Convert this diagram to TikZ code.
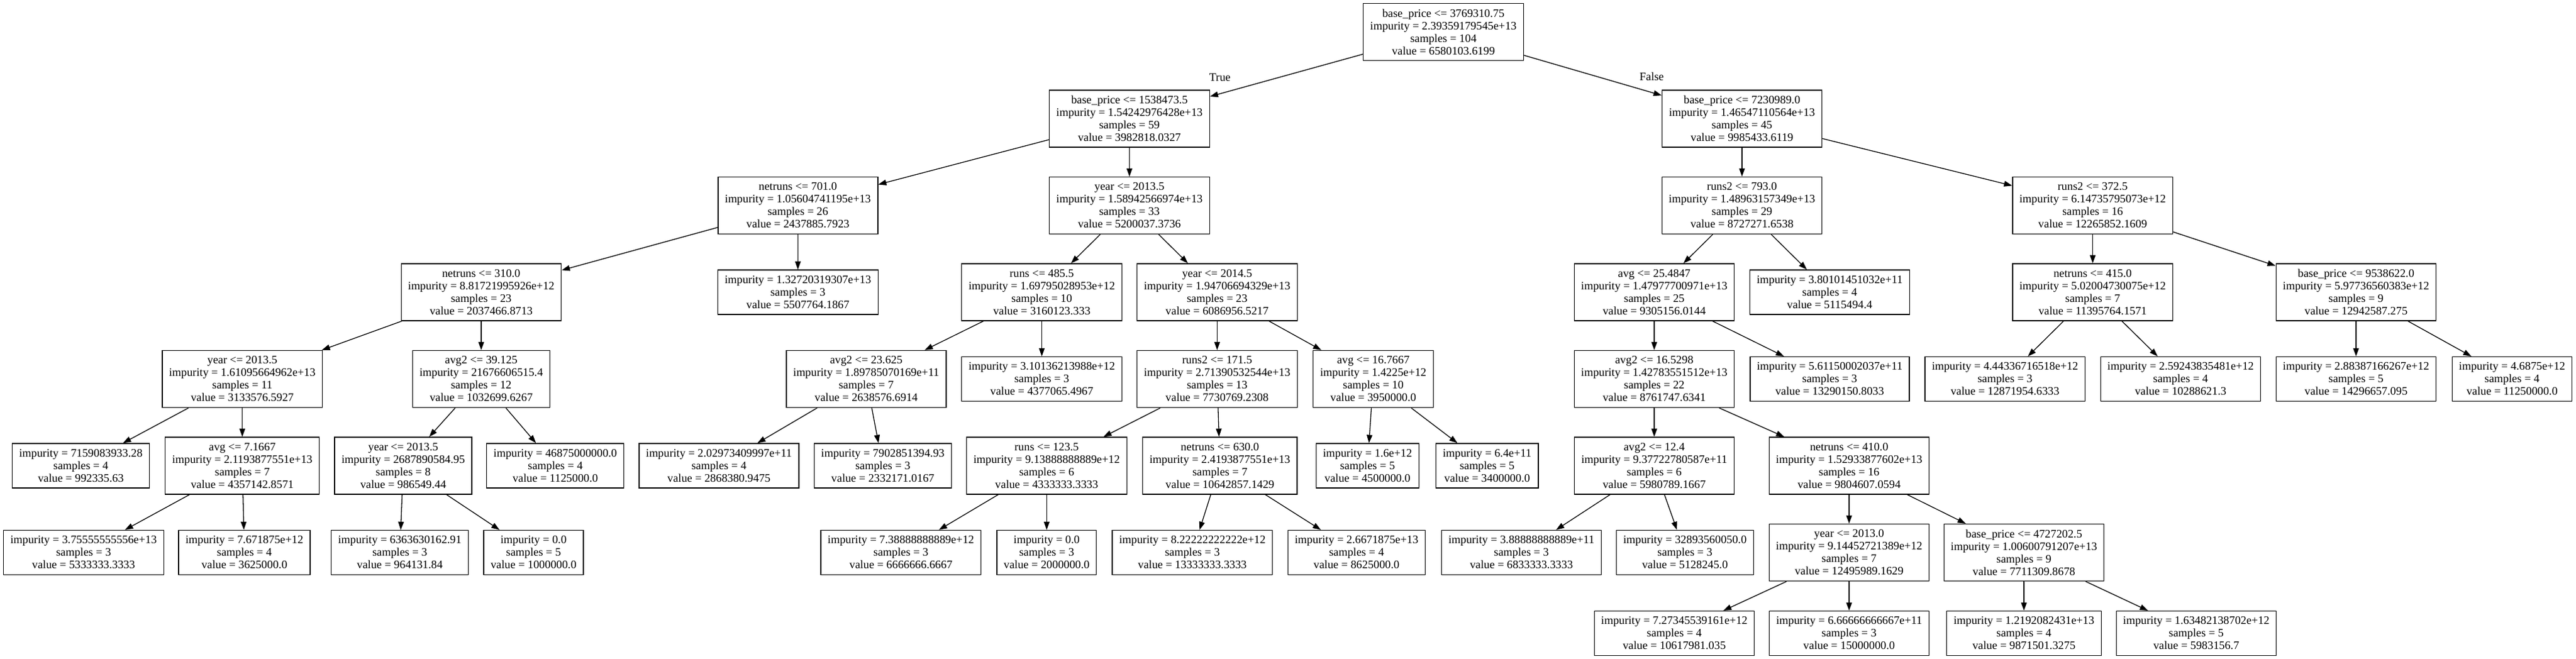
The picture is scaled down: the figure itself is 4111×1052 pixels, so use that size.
\documentclass[tikz,border=0pt]{standalone}
\usepackage{fontspec}
\setmainfont{Liberation Serif}
\usetikzlibrary{positioning,arrows.meta}

\begin{document}
\begin{tikzpicture}[>={Triangle[length=13bp,width=9bp]},line width=1.3bp,on grid,
  font=\fontsize{18.3bp}{20bp}\selectfont,
  split/.style={draw,rectangle,align=center,minimum height=91bp,inner xsep=11bp,inner ysep=2bp},
  leaf/.style={split,minimum height=71bp}]
\useasboundingbox (-2303.5bp,51bp) rectangle (1807.5bp,-1001bp);

% left half (True)
\node[split] (n_0) {base\_price <= 3769310.75\\impurity = 2.39359179545e+13\\samples = 104\\value = 6580103.6199};
\node[split] (n_1) [below left=138.5bp and 501bp of n_0] {base\_price <= 1538473.5\\impurity = 1.54242976428e+13\\samples = 59\\value = 3982818.0327};
\node[split] (n_2) [below left=138.5bp and 529.1bp of n_1] {netruns <= 701.0\\impurity = 1.05604741195e+13\\samples = 26\\value = 2437885.7923};
\node[split] (n_3) [below left=138.5bp and 505.4bp of n_2] {netruns <= 310.0\\impurity = 8.81721995926e+12\\samples = 23\\value = 2037466.8713};
\node[split] (n_4) [below left=138.5bp and 381.3bp of n_3] {year <= 2013.5\\impurity = 1.61095664962e+13\\samples = 11\\value = 3133576.5927};
\node[leaf] (n_5) [below left=138.5bp and 257.7bp of n_4] {impurity = 7159083933.28\\samples = 4\\value = 992335.63};
\node[split] (n_6) [below=138.5bp of n_4] {avg <= 7.1667\\impurity = 2.1193877551e+13\\samples = 7\\value = 4357142.8571};
\node[leaf] (n_7) [below left=138.5bp and 253.3bp of n_6] {impurity = 3.75555555556e+13\\samples = 3\\value = 5333333.3333};
\node[leaf] (n_8) [below right=138.5bp and 3.3bp of n_6] {impurity = 7.671875e+12\\samples = 4\\value = 3625000.0};
\node[split] (n_9) [below=138.5bp of n_3] {avg2 <= 39.125\\impurity = 21676606515.4\\samples = 12\\value = 1032699.6267};
\node[split] (n_10) [below left=138.5bp and 124.5bp of n_9] {year <= 2013.5\\impurity = 2687890584.95\\samples = 8\\value = 986549.44};
\node[leaf] (n_11) [below left=138.5bp and 5.4bp of n_10] {impurity = 6363630162.91\\samples = 3\\value = 964131.84};
\node[leaf] (n_12) [below right=138.5bp and 208bp of n_10] {impurity = 0.0\\samples = 5\\value = 1000000.0};
\node[leaf] (n_13) [below right=138.5bp and 118.2bp of n_9] {impurity = 46875000000.0\\samples = 4\\value = 1125000.0};
\node[leaf] (n_14) [below=138.5bp of n_2] {impurity = 1.32720319307e+13\\samples = 3\\value = 5507764.1867};
\node[split] (n_15) [below=138.5bp of n_1] {year <= 2013.5\\impurity = 1.58942566974e+13\\samples = 33\\value = 5200037.3736};
\node[split] (n_16) [below left=138.5bp and 139.9bp of n_15] {runs <= 485.5\\impurity = 1.69795028953e+12\\samples = 10\\value = 3160123.333};
\node[split] (n_17) [below left=138.5bp and 280.2bp of n_16] {avg2 <= 23.625\\impurity = 1.89785070169e+11\\samples = 7\\value = 2638576.6914};
\node[leaf] (n_18) [below left=138.5bp and 235bp of n_17] {impurity = 2.02973409997e+11\\samples = 4\\value = 2868380.9475};
\node[leaf] (n_19) [below right=138.5bp and 26.5bp of n_17] {impurity = 7902851394.93\\samples = 3\\value = 2332171.0167};
\node[leaf] (n_20) [below=138.5bp of n_16] {impurity = 3.10136213988e+12\\samples = 3\\value = 4377065.4967};
\node[split] (n_21) [below right=138.5bp and 139.9bp of n_15] {year <= 2014.5\\impurity = 1.94706694329e+13\\samples = 23\\value = 6086956.5217};
\node[split] (n_22) [below=138.5bp of n_21] {runs2 <= 171.5\\impurity = 2.71390532544e+13\\samples = 13\\value = 7730769.2308};
\node[split] (n_23) [below left=138.5bp and 272bp of n_22] {runs <= 123.5\\impurity = 9.13888888889e+12\\samples = 6\\value = 4333333.3333};
\node[leaf] (n_24) [below left=138.5bp and 232.6bp of n_23] {impurity = 7.38888888889e+12\\samples = 3\\value = 6666666.6667};
\node[leaf] (n_25) [below=138.5bp of n_23] {impurity = 0.0\\samples = 3\\value = 2000000.0};
\node[split] (n_26) [below right=138.5bp and 4.5bp of n_22] {netruns <= 630.0\\impurity = 2.4193877551e+13\\samples = 7\\value = 10642857.1429};
\node[leaf] (n_27) [below left=138.5bp and 44bp of n_26] {impurity = 8.22222222222e+12\\samples = 3\\value = 13333333.3333};
\node[leaf] (n_28) [below right=138.5bp and 218bp of n_26] {impurity = 2.6671875e+13\\samples = 4\\value = 8625000.0};
\node[split] (n_29) [below right=138.5bp and 249.2bp of n_21] {avg <= 16.7667\\impurity = 1.4225e+12\\samples = 10\\value = 3950000.0};
\node[leaf] (n_30) [below left=138.5bp and 9.2bp of n_29] {impurity = 1.6e+12\\samples = 5\\value = 4500000.0};
\node[leaf] (n_31) [below right=138.5bp and 181.7bp of n_29] {impurity = 6.4e+11\\samples = 5\\value = 3400000.0};

% right half (False)
\node[split] (n_32) [below right=138.5bp and 476.5bp of n_0] {base\_price <= 7230989.0\\impurity = 1.46547110564e+13\\samples = 45\\value = 9985433.6119};
\node[split] (n_33) [below=138.5bp of n_32] {runs2 <= 793.0\\impurity = 1.48963157349e+13\\samples = 29\\value = 8727271.6538};
\node[split] (n_34) [below left=138.5bp and 140bp of n_33] {avg <= 25.4847\\impurity = 1.47977700971e+13\\samples = 25\\value = 9305156.0144};
\node[split] (n_35) [below=138.5bp of n_34] {avg2 <= 16.5298\\impurity = 1.42783551512e+13\\samples = 22\\value = 8761747.6341};
\node[split] (n_36) [below=138.5bp of n_35] {avg2 <= 12.4\\impurity = 9.37722780587e+11\\samples = 6\\value = 5980789.1667};
\node[leaf] (n_37) [below left=138.5bp and 212bp of n_36] {impurity = 3.88888888889e+11\\samples = 3\\value = 6833333.3333};
\node[leaf] (n_38) [below right=138.5bp and 49bp of n_36] {impurity = 32893560050.0\\samples = 3\\value = 5128245.0};
\node[split] (n_39) [below right=138.5bp and 311bp of n_35] {netruns <= 410.0\\impurity = 1.52933877602e+13\\samples = 16\\value = 9804607.0594};
\node[split] (n_40) [below=138.5bp of n_39] {year <= 2013.0\\impurity = 9.14452721389e+12\\samples = 7\\value = 12495989.1629};
\node[leaf] (n_41) [below left=129bp and 279bp of n_40] {impurity = 7.27345539161e+12\\samples = 4\\value = 10617981.035};
\node[leaf] (n_42) [below=129bp of n_40] {impurity = 6.66666666667e+11\\samples = 3\\value = 15000000.0};
\node[split] (n_43) [below right=138.5bp and 279bp of n_39] {base\_price <= 4727202.5\\impurity = 1.00600791207e+13\\samples = 9\\value = 7711309.8678};
\node[leaf] (n_44) [below=129bp of n_43] {impurity = 1.2192082431e+13\\samples = 4\\value = 9871501.3275};
\node[leaf] (n_45) [below right=129bp and 275bp of n_43] {impurity = 1.63482138702e+12\\samples = 5\\value = 5983156.7};
\node[leaf] (n_46) [below right=138.5bp and 280bp of n_34] {impurity = 5.61150002037e+11\\samples = 3\\value = 13290150.8033};
\node[leaf] (n_47) [below right=138.5bp and 140bp of n_33] {impurity = 3.80101451032e+11\\samples = 4\\value = 5115494.4};
\node[split] (n_48) [below right=138.5bp and 559.7bp of n_32] {runs2 <= 372.5\\impurity = 6.14735795073e+12\\samples = 16\\value = 12265852.1609};
\node[split] (n_49) [below=138.5bp of n_48] {netruns <= 415.0\\impurity = 5.02004730075e+12\\samples = 7\\value = 11395764.1571};
\node[leaf] (n_50) [below left=138.5bp and 139.9bp of n_49] {impurity = 4.44336716518e+12\\samples = 3\\value = 12871954.6333};
\node[leaf] (n_51) [below right=138.5bp and 140.3bp of n_49] {impurity = 2.59243835481e+12\\samples = 4\\value = 10288621.3};
\node[split] (n_52) [below right=138.5bp and 420.3bp of n_48] {base\_price <= 9538622.0\\impurity = 5.97736560383e+12\\samples = 9\\value = 12942587.275};
\node[leaf] (n_53) [below=138.5bp of n_52] {impurity = 2.88387166267e+12\\samples = 5\\value = 14296657.095};
\node[leaf] (n_54) [below right=138.5bp and 249bp of n_52] {impurity = 4.6875e+12\\samples = 4\\value = 11250000.0};

\path[->] (n_0) edge node[pos=0.935,yshift=26bp] {True} (n_1) edge node[pos=0.928,yshift=25bp] {False} (n_32)
(n_1) edge (n_2) edge (n_15)
(n_2) edge (n_3) edge (n_14)
(n_3) edge (n_4) edge (n_9)
(n_4) edge (n_5) edge (n_6)
(n_6) edge (n_7) edge (n_8)
(n_9) edge (n_10) edge (n_13)
(n_10) edge (n_11) edge (n_12)
(n_15) edge (n_16) edge (n_21)
(n_16) edge (n_17) edge (n_20)
(n_17) edge (n_18) edge (n_19)
(n_21) edge (n_22) edge (n_29)
(n_22) edge (n_23) edge (n_26)
(n_23) edge (n_24) edge (n_25)
(n_26) edge (n_27) edge (n_28)
(n_29) edge (n_30) edge (n_31)
(n_32) edge (n_33) edge (n_48)
(n_33) edge (n_34) edge (n_47)
(n_34) edge (n_35) edge (n_46)
(n_35) edge (n_36) edge (n_39)
(n_36) edge (n_37) edge (n_38)
(n_39) edge (n_40) edge (n_43)
(n_40) edge (n_41) edge (n_42)
(n_43) edge (n_44) edge (n_45)
(n_48) edge (n_49) edge (n_52)
(n_49) edge (n_50) edge (n_51)
(n_52) edge (n_53) edge (n_54);
\end{tikzpicture}
\end{document}
